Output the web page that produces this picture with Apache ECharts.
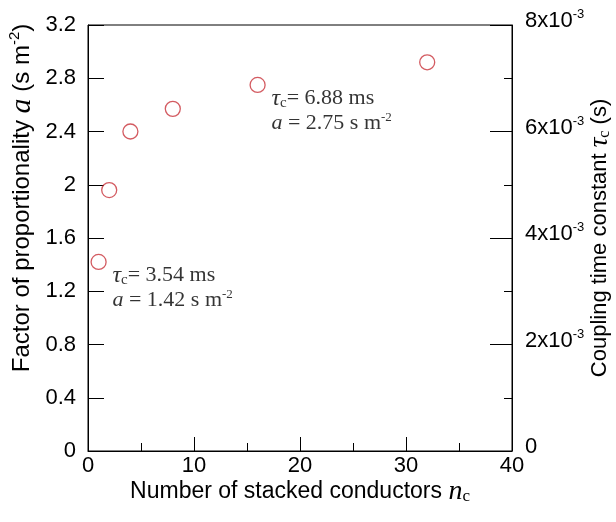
<!DOCTYPE html>
<html>
<head>
<meta charset="utf-8">
<script src="https://cdn.jsdelivr.net/npm/echarts@6/dist/echarts.min.js"></script>
<style>
  html, body { margin: 0; padding: 0; background: #fff; }
  #chart { width: 616px; height: 522px; }
</style>
</head>
<body>
<div id="chart"></div>
<script>
// number of stacked conductors and factor of proportionality
const nc = [1, 2, 4, 8, 16, 32];
const alpha = [1.42, 1.96, 2.40, 2.57, 2.75, 2.92];
// annotated points
const noteIndex = [0, 4];
const noteTau = ['3.54', '6.88'];
const noteAlpha = ['1.42', '2.75'];

const SANS = 'Liberation Sans, Arial, sans-serif';
const SERIF = 'Liberation Serif, Times New Roman, serif';
const INK = '#000';

const noteRich = {
    t: { fontFamily: SERIF, fontSize: 22, color: INK, lineHeight: 25 },
    tau: { fontFamily: SERIF, fontStyle: 'italic', fontSize: 24, color: INK, lineHeight: 25 },
    sub: { fontFamily: SERIF, fontSize: 15, color: INK, lineHeight: 14, verticalAlign: 'bottom' },
    it: { fontFamily: SERIF, fontStyle: 'italic', fontSize: 22, color: INK, lineHeight: 25 },
    sup: { fontFamily: SERIF, fontSize: 13, color: INK, lineHeight: 13, verticalAlign: 'top' }
};

const nameRich = {
    t: { fontFamily: SANS, fontSize: 22, color: INK, lineHeight: 26 },
    v: { fontFamily: SERIF, fontStyle: 'italic', fontSize: 27, color: INK, lineHeight: 26 },
    sub: { fontFamily: SERIF, fontSize: 16, color: INK, lineHeight: 14, verticalAlign: 'bottom' },
    sup: { fontFamily: SANS, fontSize: 13, color: INK, lineHeight: 13, verticalAlign: 'top' }
};

const bottomNameRich = {
    t: { fontFamily: SANS, fontSize: 23, color: INK, lineHeight: 26 },
    v: { fontFamily: SERIF, fontStyle: 'italic', fontSize: 28, color: INK, lineHeight: 26 },
    sub: { fontFamily: SERIF, fontSize: 17, color: INK, lineHeight: 14, verticalAlign: 'bottom' }
};

const leftNameRich = {
    t: { fontFamily: SANS, fontSize: 24, color: INK, lineHeight: 30 },
    v: { fontFamily: SERIF, fontStyle: 'italic', fontSize: 30, color: INK, lineHeight: 30 },
    sup: { fontFamily: SANS, fontSize: 15, color: INK, lineHeight: 15, verticalAlign: 'top' }
};

const points = nc.map(function (x, i) {
    const k = noteIndex.indexOf(i);
    const item = { value: [x, alpha[i]] };
    if (k >= 0) {
        item.label = {
            show: true,
            position: [22, 9],
            align: 'left',
            verticalAlign: 'top',
            formatter: '{tau|τ}{sub|c}{t|= ' + noteTau[k] + ' ms}\n{it|a}{t| = ' + noteAlpha[k] + ' s m}{sup|-2}',
            rich: noteRich
        };
    }
    return item;
});

const myChart = echarts.init(document.getElementById('chart'));
const option = {
    animation: false,
    backgroundColor: '#fff',
    grid: {
        left: 88,
        right: 104,
        top: 25,
        bottom: 71,
        show: true,
        borderColor: '#000',
        borderWidth: 1,
        outerBoundsMode: 'none'
    },
    xAxis: {
        type: 'value',
        min: 0,
        max: 40,
        interval: 10,
        name: '{t|Number of stacked conductors }{v|n}{sub|c}',
        nameLocation: 'middle',
        nameGap: 28,
        nameMoveOverlap: false,
        nameTextStyle: { rich: bottomNameRich },
        axisLine: { lineStyle: { color: '#000', width: 1 } },
        axisTick: { inside: true, length: 14, lineStyle: { color: '#000' } },
        minorTick: { show: true, splitNumber: 2, length: 8, lineStyle: { color: '#000' } },
        splitLine: { show: false },
        axisLabel: { fontFamily: SANS, fontSize: 22, color: INK, margin: 4 }
    },
    yAxis: [
        {
            type: 'value',
            min: 0,
            max: 3.2,
            interval: 0.4,
            axisLine: { show: true, lineStyle: { color: '#000', width: 1 } },
            axisTick: { show: true, inside: true, length: 16, lineStyle: { color: '#000' } },
            splitLine: { show: false },
            axisLabel: { fontFamily: SANS, fontSize: 22, color: INK, margin: 12 }
        },
        {
            type: 'value',
            position: 'right',
            min: 0,
            max: 0.008,
            interval: 0.002,
            name: '{t|Coupling time constant }{v|τ}{sub|c}{t| (s)}',
            nameLocation: 'middle',
            nameRotate: 90,
            nameGap: 75,
            nameMoveOverlap: false,
            nameTextStyle: { rich: nameRich },
            axisLine: { show: true, lineStyle: { color: '#000', width: 1 } },
            axisTick: { show: true, inside: true, length: 22, lineStyle: { color: '#000' } },
            minorTick: { show: true, splitNumber: 2, length: 8, lineStyle: { color: '#000' } },
            splitLine: { show: false },
            axisLabel: {
                margin: 13,
                padding: [0, 0, 8, 0],
                formatter: function (v) {
                    if (v === 0) return '{t|0}';
                    return '{t|' + Math.round(v * 1000) + 'x10}{sup|-3}';
                },
                rich: {
                    t: { fontFamily: SANS, fontSize: 22, color: INK, lineHeight: 26 },
                    sup: { fontFamily: SANS, fontSize: 13, color: INK, lineHeight: 13, verticalAlign: 'top' }
                }
            }
        }
    ],
    graphic: [
        {
            type: 'text',
            x: 22,
            y: 198,
            rotation: Math.PI / 2,
            style: {
                text: '{t|Factor of proportionality }{v|a}{t| (s m}{sup|-2}{t|)}',
                rich: leftNameRich,
                align: 'center',
                verticalAlign: 'middle'
            }
        }
    ],
    series: [
        {
            name: 'alpha',
            type: 'scatter',
            xAxisIndex: 0,
            yAxisIndex: 0,
            symbol: 'circle',
            symbolSize: 15,
            itemStyle: { color: 'rgba(0,0,0,0)', borderColor: '#c8323a', borderWidth: 1.3 },
            data: points
        }
    ]
};
myChart.setOption(option);
</script>
</body>
</html>
